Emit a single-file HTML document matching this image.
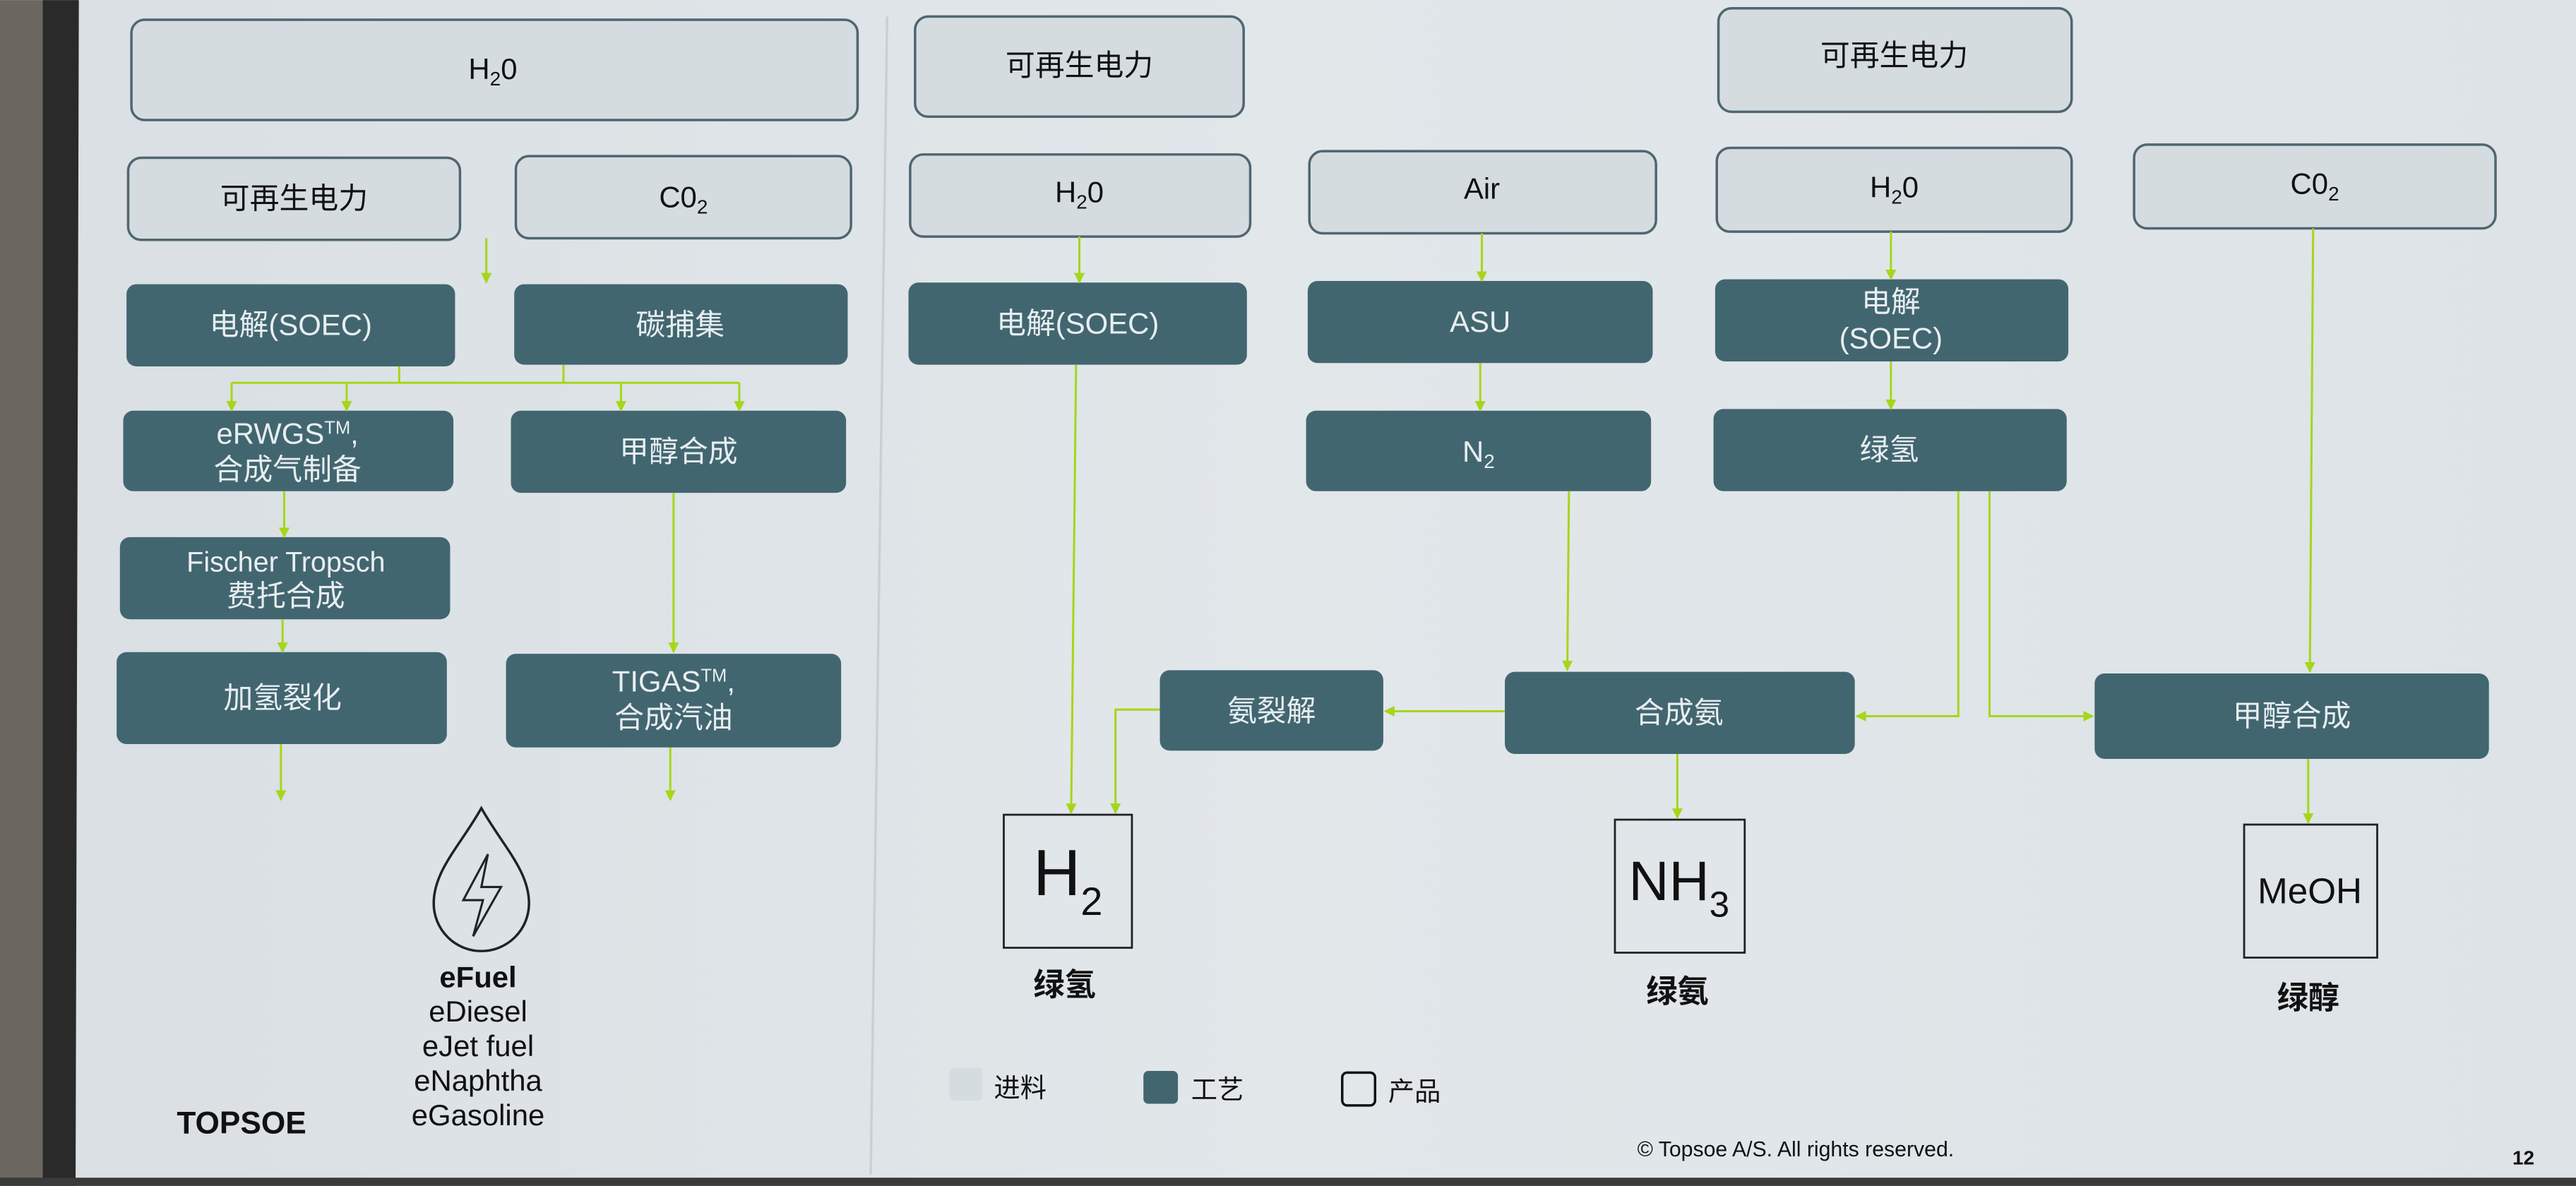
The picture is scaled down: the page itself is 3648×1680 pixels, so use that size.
<!DOCTYPE html>
<html><head><meta charset="utf-8"><style>
html,body{margin:0;padding:0;width:3648px;height:1680px;overflow:hidden;background:#dde3e7}
svg{display:block}
text{font-family:"Liberation Sans","Noto Sans CJK SC",sans-serif}
</style></head><body>
<svg width="3648" height="1680" viewBox="0 0 1568 722" xmlns="http://www.w3.org/2000/svg">
<defs>
<marker id="a" viewBox="0 0 10 10" refX="9" refY="5" markerWidth="5" markerHeight="5" orient="auto"><path d="M0,0L10,5L0,10z" fill="#a6d61a"/></marker>
<linearGradient id="bg" x1="0" x2="1" y1="0" y2="0"><stop offset="0" stop-color="#d9dfe3"/><stop offset="0.5" stop-color="#e2e7ea"/><stop offset="1" stop-color="#dde3e7"/></linearGradient>
</defs>
<rect width="1568" height="722" fill="url(#bg)"/>
<rect x="0" y="0" width="26" height="722" fill="#6b6760"/>
<polygon points="26,0 48,0 46,722 26,722" fill="#2a2a2a"/>
<rect x="0" y="717" width="1568" height="5" fill="#3a3a3a"/>
<line x1="540" y1="10" x2="530" y2="715" stroke="#c9d0d4" stroke-width="1.5"/>

<g fill="#d5dce0" stroke="#4f6670" stroke-width="1.5">
<rect x="80" y="12" width="442" height="61" rx="8"/>
<rect x="78" y="96" width="202" height="50" rx="8"/>
<rect x="314" y="95" width="204" height="50" rx="8"/>
<rect x="557" y="10" width="200" height="61" rx="8"/>
<rect x="1046" y="5" width="215" height="63" rx="8"/>
<rect x="554" y="94" width="207" height="50" rx="8"/>
<rect x="797" y="92" width="211" height="50" rx="8"/>
<rect x="1045" y="90" width="216" height="51" rx="8"/>
<rect x="1299" y="88" width="220" height="51" rx="8"/>
</g>
<g fill="#426670">
<rect x="77" y="173" width="200" height="50" rx="6"/>
<rect x="313" y="173" width="203" height="49" rx="6"/>
<rect x="75" y="250" width="201" height="49" rx="6"/>
<rect x="311" y="250" width="204" height="50" rx="6"/>
<rect x="73" y="327" width="201" height="50" rx="6"/>
<rect x="71" y="397" width="201" height="56" rx="6"/>
<rect x="308" y="398" width="204" height="57" rx="6"/>
<rect x="553" y="172" width="206" height="50" rx="6"/>
<rect x="796" y="171" width="210" height="50" rx="6"/>
<rect x="1044" y="170" width="215" height="50" rx="6"/>
<rect x="795" y="250" width="210" height="49" rx="6"/>
<rect x="1043" y="249" width="215" height="50" rx="6"/>
<rect x="706" y="408" width="136" height="49" rx="6"/>
<rect x="916" y="409" width="213" height="50" rx="6"/>
<rect x="1275" y="410" width="240" height="52" rx="6"/>
</g>
<g fill="none" stroke="#222" stroke-width="1.2">
<rect x="611" y="496" width="78" height="81"/>
<rect x="983" y="499" width="79" height="81"/>
<rect x="1366" y="502" width="81" height="81"/>
</g>

<g stroke="#a6d61a" stroke-width="1.3" fill="none">
<line x1="296" y1="145" x2="296" y2="172" marker-end="url(#a)"/>
<polyline points="243,223 243,233"/><polyline points="343,222 343,233"/>
<line x1="141" y1="233" x2="450" y2="233"/>
<line x1="141" y1="233" x2="141" y2="250" marker-end="url(#a)"/>
<line x1="211" y1="233" x2="211" y2="250" marker-end="url(#a)"/>
<line x1="378" y1="233" x2="378" y2="250" marker-end="url(#a)"/>
<line x1="450" y1="233" x2="450" y2="250" marker-end="url(#a)"/>
<line x1="173" y1="299" x2="173" y2="327" marker-end="url(#a)"/>
<line x1="172" y1="377" x2="172" y2="397" marker-end="url(#a)"/>
<line x1="171" y1="453" x2="171" y2="487" marker-end="url(#a)"/>
<line x1="410" y1="300" x2="410" y2="397" marker-end="url(#a)"/>
<line x1="408" y1="455" x2="408" y2="487" marker-end="url(#a)"/>
<line x1="657" y1="144" x2="657" y2="172" marker-end="url(#a)"/>
<line x1="902" y1="142" x2="902" y2="171" marker-end="url(#a)"/>
<line x1="1151" y1="141" x2="1151" y2="170" marker-end="url(#a)"/>
<line x1="901" y1="221" x2="901" y2="250" marker-end="url(#a)"/>
<line x1="1151" y1="220" x2="1151" y2="249" marker-end="url(#a)"/>
<line x1="655" y1="222" x2="652" y2="495" marker-end="url(#a)"/>
<line x1="955" y1="299" x2="954" y2="408" marker-end="url(#a)"/>
<polyline points="1192,299 1192,436 1130,436" marker-end="url(#a)"/>
<polyline points="1211,299 1211,436 1274,436" marker-end="url(#a)"/>
<line x1="1408" y1="139" x2="1406" y2="409" marker-end="url(#a)"/>
<line x1="916" y1="433" x2="843" y2="433" marker-end="url(#a)"/>
<polyline points="706,432 679,432 679,495" marker-end="url(#a)"/>
<line x1="1021" y1="459" x2="1021" y2="498" marker-end="url(#a)"/>
<line x1="1405" y1="462" x2="1405" y2="501" marker-end="url(#a)"/>
</g>

<g font-size="18" text-anchor="middle" fill="#111">
<text x="300" y="48">H<tspan font-size="12" dy="4">2</tspan><tspan dy="-4">0</tspan></text>
<text x="179" y="127">可再生电力</text>
<text x="416" y="126">C0<tspan font-size="12" dy="4">2</tspan></text>
<text x="657" y="46">可再生电力</text>
<text x="1153" y="40">可再生电力</text>
<text x="657" y="123">H<tspan font-size="12" dy="4">2</tspan><tspan dy="-4">0</tspan></text>
<text x="902" y="121">Air</text>
<text x="1153" y="120">H<tspan font-size="12" dy="4">2</tspan><tspan dy="-4">0</tspan></text>
<text x="1409" y="118">C0<tspan font-size="12" dy="4">2</tspan></text>
</g>
<g font-size="18" text-anchor="middle" fill="#e8eef0">
<text x="177" y="204">电解(SOEC)</text>
<text x="414" y="204">碳捕集</text>
<text x="175" y="270">eRWGS<tspan font-size="11" dy="-6">TM</tspan><tspan dy="6">,</tspan></text>
<text x="175" y="292">合成气制备</text>
<text x="413" y="281">甲醇合成</text>
<text x="174" y="348" font-size="17">Fischer Tropsch</text>
<text x="174" y="369">费托合成</text>
<text x="172" y="431">加氢裂化</text>
<text x="410" y="421">TIGAS<tspan font-size="11" dy="-6">TM</tspan><tspan dy="6">,</tspan></text>
<text x="410" y="443">合成汽油</text>
<text x="656" y="203">电解(SOEC)</text>
<text x="901" y="202">ASU</text>
<text x="1151" y="190">电解</text>
<text x="1151" y="212">(SOEC)</text>
<text x="900" y="281">N<tspan font-size="12" dy="4">2</tspan></text>
<text x="1150" y="280">绿氢</text>
<text x="774" y="439">氨裂解</text>
<text x="1022" y="440">合成氨</text>
<text x="1395" y="442">甲醇合成</text>
</g>
<g text-anchor="middle" fill="#111">
<text x="650" y="545" font-size="40">H<tspan font-size="24" dy="12">2</tspan></text>
<text x="1022" y="548" font-size="34">NH<tspan font-size="22" dy="10">3</tspan></text>
<text x="1406" y="550" font-size="22">MeOH</text>
<g font-size="19" font-weight="bold"><text x="648" y="606">绿氢</text><text x="1021" y="610">绿氨</text><text x="1405" y="614">绿醇</text></g>
<g font-size="18"><text x="291" y="601" font-weight="bold">eFuel</text><text x="291" y="622">eDiesel</text><text x="291" y="643">eJet fuel</text><text x="291" y="664">eNaphtha</text><text x="291" y="685">eGasoline</text></g>
<text x="147" y="690" font-size="19" font-weight="bold">TOPSOE</text>
<text x="1093" y="704" font-size="13">© Topsoe A/S. All rights reserved.</text>
<text x="1536" y="709" font-size="12" font-weight="bold">12</text>
</g>
<path d="M293,492 C280,515 264,530 264,550 A29,29 0 0 0 322,550 C322,530 306,515 293,492Z" fill="none" stroke="#222" stroke-width="1.5"/>
<path d="M297,520 L282,548 L294,548 L288,570 L305,540 L293,540 Z" fill="none" stroke="#222" stroke-width="1.3"/>
<rect x="578" y="650" width="20" height="20" rx="3" fill="#d5dce0"/>
<rect x="696" y="652" width="21" height="20" rx="3" fill="#426670"/>
<rect x="817" y="653" width="20" height="20" rx="3" fill="none" stroke="#111" stroke-width="1.5"/>
<g font-size="16" fill="#111"><text x="605" y="668">进料</text><text x="725" y="669">工艺</text><text x="845" y="670">产品</text></g>
</svg>
</body></html>
